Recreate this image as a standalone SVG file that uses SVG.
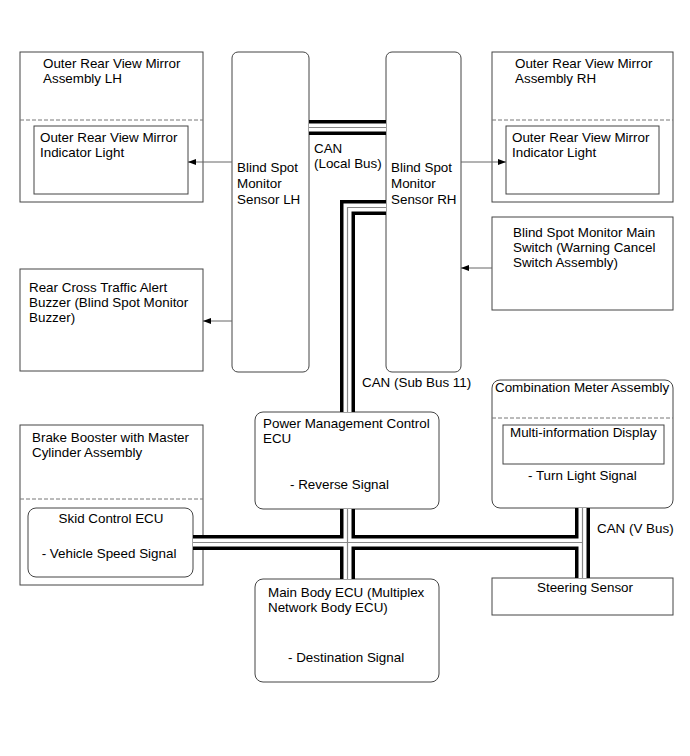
<svg xmlns="http://www.w3.org/2000/svg" width="690" height="756" viewBox="0 0 690 756">
<defs>
<style>
text{font-family:"Liberation Sans",Arial,sans-serif;font-size:13.4px;fill:#000}
.box{fill:#fff;stroke:#444;stroke-width:1}
.dash{stroke:#777;stroke-width:1;stroke-dasharray:4 2;fill:none}
.arr{stroke:#666;stroke-width:1;fill:none;marker-end:url(#ah)}
.busB{stroke:#000;stroke-width:15;fill:none;stroke-linejoin:miter}
.busW{stroke:#fff;stroke-width:8;fill:none;stroke-linejoin:miter}
.busG{stroke:#888;stroke-width:1.2;fill:none;stroke-linejoin:miter}
</style>
<marker id="ah" markerUnits="userSpaceOnUse" markerWidth="8" markerHeight="6" refX="8" refY="3" orient="auto">
<path d="M0,0 L8,3 L0,6 z" fill="#000"/>
</marker>
</defs>
<rect width="690" height="756" fill="#fff"/>

<g id="mirror-lh">
<rect class="box" x="20" y="52" width="183" height="150"/>
<line class="dash" x1="20" y1="120" x2="203" y2="120"/>
<text x="43" y="68">Outer Rear View Mirror</text>
<text x="43" y="83">Assembly LH</text>
</g>
<g id="indicator-lh">
<rect class="box" x="34" y="126" width="154" height="68"/>
<text x="40" y="142">Outer Rear View Mirror</text>
<text x="40" y="157">Indicator Light</text>
</g>

<g id="bsm-lh">
<rect class="box" x="232" y="52" width="77" height="320" rx="6"/>
<text x="237" y="172">Blind Spot</text>
<text x="237" y="188">Monitor</text>
<text x="237" y="204">Sensor LH</text>
</g>

<g id="bsm-rh">
<rect class="box" x="386" y="52" width="75" height="320" rx="6"/>
<text x="391" y="172">Blind Spot</text>
<text x="391" y="188">Monitor</text>
<text x="391" y="204">Sensor RH</text>
</g>

<g id="mirror-rh">
<rect class="box" x="492" y="52" width="181" height="150"/>
<line class="dash" x1="492" y1="120" x2="673" y2="120"/>
<text x="515" y="68">Outer Rear View Mirror</text>
<text x="515" y="83">Assembly RH</text>
</g>
<g id="indicator-rh">
<rect class="box" x="506" y="126" width="153" height="68"/>
<text x="512" y="142">Outer Rear View Mirror</text>
<text x="512" y="157">Indicator Light</text>
</g>

<g id="main-switch">
<rect class="box" x="492" y="217" width="181" height="93"/>
<text x="513" y="237">Blind Spot Monitor Main</text>
<text x="513" y="252">Switch (Warning Cancel</text>
<text x="513" y="267">Switch Assembly)</text>
</g>

<g id="buzzer">
<rect class="box" x="20" y="269" width="183" height="102"/>
<text x="29" y="292">Rear Cross Traffic Alert</text>
<text x="29" y="307">Buzzer (Blind Spot Monitor</text>
<text x="29" y="322">Buzzer)</text>
</g>

<g id="brake-booster">
<rect class="box" x="20" y="425" width="183" height="160"/>
<line class="dash" x1="20" y1="499" x2="203" y2="499"/>
<text x="32" y="442">Brake Booster with Master</text>
<text x="32" y="457">Cylinder Assembly</text>
</g>
<g id="skid-ecu">
<rect class="box" x="28" y="508" width="165" height="69" rx="8"/>
<text x="111" y="523" text-anchor="middle">Skid Control ECU</text>
<text x="109" y="558" text-anchor="middle">- Vehicle Speed Signal</text>
</g>

<g id="pmc-ecu">
<rect class="box" x="255" y="412" width="184" height="97" rx="8"/>
<text x="263" y="428">Power Management Control</text>
<text x="263" y="443">ECU</text>
<text x="290" y="489">- Reverse Signal</text>
</g>

<g id="main-body-ecu">
<rect class="box" x="255" y="579" width="184" height="103" rx="8"/>
<text x="268" y="597">Main Body ECU (Multiplex</text>
<text x="268" y="612">Network Body ECU)</text>
<text x="288" y="662">- Destination Signal</text>
</g>

<g id="combination-meter">
<rect class="box" x="492" y="380" width="181" height="128" rx="8"/>
<line class="dash" x1="492" y1="418" x2="673" y2="418"/>
<text x="495" y="392">Combination Meter Assembly</text>
<text x="528" y="480">- Turn Light Signal</text>
</g>
<g id="multi-info-display">
<rect class="box" x="503" y="425" width="161" height="39"/>
<text x="510" y="437">Multi-information Display</text>
</g>

<g id="steering-sensor">
<rect class="box" x="492" y="578" width="181" height="37"/>
<text x="537" y="592">Steering Sensor</text>
</g>

<g id="connectors">
<g id="bus-black">
<path class="busB" d="M309,127.5 H386"/>
<path class="busB" d="M386,207.5 H347.5 V412"/>
<path class="busB" d="M193,542.5 H582.5"/>
<path class="busB" d="M347.5,509 V579"/>
<path class="busB" d="M582.5,508 V578"/>
</g>
<g id="bus-white">
<path class="busW" d="M309,127.5 H386"/>
<path class="busW" d="M386,207.5 H347.5 V412"/>
<path class="busW" d="M193,542.5 H582.5"/>
<path class="busW" d="M347.5,509 V579"/>
<path class="busW" d="M582.5,508 V578"/>
</g>
<g id="bus-gray">
<path class="busG" d="M309,127.5 H386"/>
<path class="busG" d="M386,207.5 H347.5 V412"/>
<path class="busG" d="M193,542.5 H582.5"/>
<path class="busG" d="M347.5,509 V579"/>
<path class="busG" d="M582.5,508 V578"/>
</g>
<path class="arr" d="M232,162 H188"/>
<path class="arr" d="M461,162 H506"/>
<path class="arr" d="M492,268 H461"/>
<path class="arr" d="M232,321 H203"/>
<text x="314" y="153">CAN</text>
<text x="314" y="168">(Local Bus)</text>
<text x="362" y="387">CAN (Sub Bus 11)</text>
<text x="597" y="533">CAN (V Bus)</text>
</g>
</svg>
